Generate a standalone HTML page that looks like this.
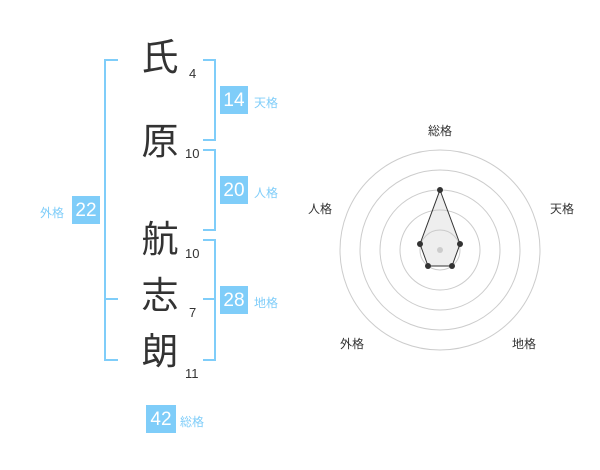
<!DOCTYPE html><html><head><style>
body{margin:0;width:600px;height:470px;background:#fff;position:relative;font-family:"Liberation Sans","Noto Sans CJK JP",sans-serif;overflow:hidden}
.k{position:absolute;font-size:37px;color:#333;width:40px;text-align:center;line-height:40px}
.n{position:absolute;font-size:13px;color:#333}
.b{position:absolute;background:#7fcdf9;color:#fff;font-size:19px;width:28px;height:28px;line-height:30px;text-align:center}
.l{position:absolute;font-size:12px;color:#7fcdf9}
.r{position:absolute;font-size:12px;color:#333}
</style></head><body>
<svg width="600" height="470" style="position:absolute;left:0;top:0">
<g stroke="#7fcdf9" stroke-width="2" fill="none">
<path d="M118 60H105V360H118M105 299H118"/>
<path d="M203 60H215V140H203"/>
<path d="M203 150H215V230H203"/>
<path d="M203 240H215V360H203M203 299H215"/>
</g>
<g fill="none" stroke="#ccc" stroke-width="1">
<circle cx="440" cy="250" r="20"/><circle cx="440" cy="250" r="40"/><circle cx="440" cy="250" r="60"/><circle cx="440" cy="250" r="80"/><circle cx="440" cy="250" r="100"/>
</g>
<polygon points="440,190 460,244 452,266 428,266 420,244" fill="rgba(200,200,200,0.3)" stroke="#333" stroke-width="1"/>
<circle cx="440" cy="250" r="3" fill="#ccc"/>
<g fill="#333"><circle cx="440" cy="190" r="3"/><circle cx="460" cy="244" r="3"/><circle cx="452" cy="266" r="3"/><circle cx="428" cy="266" r="3"/><circle cx="420" cy="244" r="3"/></g>
</svg>
<div class="k" style="left:140px;top:38px">氏</div><div class="n" style="left:189px;top:66px">4</div>
<div class="k" style="left:140px;top:122px">原</div><div class="n" style="left:185px;top:146px">10</div>
<div class="k" style="left:140px;top:220px">航</div><div class="n" style="left:185px;top:246px">10</div>
<div class="k" style="left:140px;top:276px">志</div><div class="n" style="left:189px;top:305px">7</div>
<div class="k" style="left:140px;top:332px">朗</div><div class="n" style="left:185px;top:366px">11</div>
<div class="b" style="left:220px;top:86px">14</div><div class="l" style="left:254px;top:94px">天格</div>
<div class="b" style="left:220px;top:176px">20</div><div class="l" style="left:254px;top:184px">人格</div>
<div class="b" style="left:220px;top:286px">28</div><div class="l" style="left:254px;top:294px">地格</div>
<div class="b" style="left:72px;top:196px">22</div><div class="l" style="left:40px;top:204px">外格</div>
<div class="b" style="left:146px;top:405px;width:30px">42</div><div class="l" style="left:180px;top:413px">総格</div>
<div class="r" style="left:428px;top:122px">総格</div>
<div class="r" style="left:550px;top:200px">天格</div>
<div class="r" style="left:308px;top:200px">人格</div>
<div class="r" style="left:340px;top:335px">外格</div>
<div class="r" style="left:512px;top:335px">地格</div>
</body></html>
